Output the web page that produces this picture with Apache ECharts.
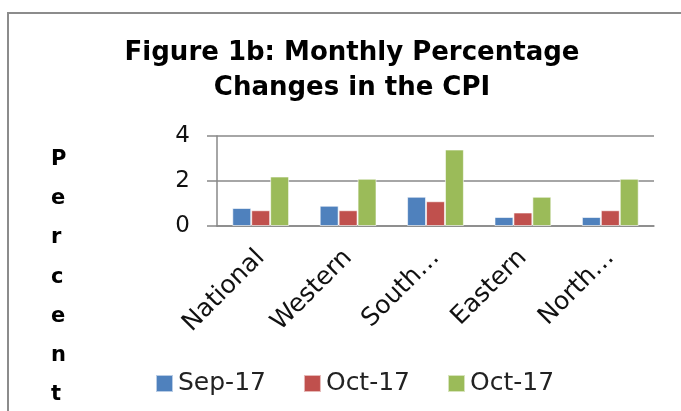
<!DOCTYPE html>
<html>
<head>
<meta charset="utf-8">
<script src="https://cdn.jsdelivr.net/npm/echarts@6/dist/echarts.min.js"></script>
<style>
  html, body { margin: 0; padding: 0; background: #fff; }
  #chart { width: 681px; height: 411px; }
</style>
</head>
<body>
<div id="chart"></div>
<script>
// 区域类别与各月数据
var regions = ['National', 'Western', 'South…', 'Eastern', 'North…'];
var seriesNames = ['Sep-17', 'Oct-17', 'Oct-17 '];
var sep17 = [0.8, 0.9, 1.3, 0.4, 0.4];
var oct17a = [0.7, 0.7, 1.1, 0.6, 0.7];
var oct17b = [2.2, 2.1, 3.4, 1.3, 2.1];
var colors = ['#4F81BD', '#C0504D', '#9BBB59'];

var chart = echarts.init(document.getElementById('chart'));
var font = '"DejaVu Sans", sans-serif';

function bar(name, data, color) {
    return {
        name: name,
        type: 'bar',
        data: data,
        barGap: '0%',
        barCategoryGap: '35%',
        itemStyle: { color: color, borderColor: 'rgba(255,255,255,0.6)', borderWidth: 1 }
    };
}

var option = {
    animation: false,
    title: {
        text: 'Figure 1b: Monthly Percentage\nChanges in the CPI',
        left: 347,
        textAlign: 'center',
        top: 31,
        textStyle: { fontFamily: font, fontWeight: 'bold', fontSize: 26, lineHeight: 35, color: '#000' }
    },
    graphic: [
        {
            type: 'rect',
            shape: { x: 8, y: 13, width: 700, height: 420 },
            style: { fill: 'none', stroke: '#8c8c8c', lineWidth: 2 }
        },
        {
            type: 'text',
            left: 51,
            top: 140,
            style: {
                text: 'P\ne\nr\nc\ne\nn\nt',
                font: 'bold 21px "DejaVu Sans", sans-serif',
                lineHeight: 39.2,
                fill: '#000',
                align: 'center'
            }
        }
    ],
    legend: {
        data: seriesNames,
        left: 150,
        top: 366,
        itemWidth: 17,
        itemHeight: 17,
        itemGap: 37,
        icon: 'rect',
        formatter: function (n) { return n.trim(); },
        textStyle: { fontFamily: font, fontSize: 25, color: '#222' }
    },
    grid: { left: 217, right: 27, top: 136, bottom: 185 },
    xAxis: {
        type: 'category',
        data: regions,
        axisLine: { lineStyle: { color: '#888', width: 1.5 } },
        axisTick: { length: 8, lineStyle: { color: '#888', width: 1.5 } },
        axisLabel: { rotate: 45, margin: 28, interval: 0, fontFamily: font, fontSize: 25, color: '#111' }
    },
    yAxis: {
        type: 'value',
        min: 0,
        max: 4,
        interval: 2,
        axisLine: { show: true, lineStyle: { color: '#888', width: 1.5 } },
        axisTick: { show: true, length: 10, lineStyle: { color: '#888', width: 1.5 } },
        splitLine: { lineStyle: { color: '#888', width: 1.5 } },
        axisLabel: { margin: 27, fontFamily: font, fontSize: 23, color: '#111' }
    },
    series: [
        bar(seriesNames[0], sep17, colors[0]),
        bar(seriesNames[1], oct17a, colors[1]),
        bar(seriesNames[2], oct17b, colors[2])
    ]
};
chart.setOption(option);
</script>
</body>
</html>
